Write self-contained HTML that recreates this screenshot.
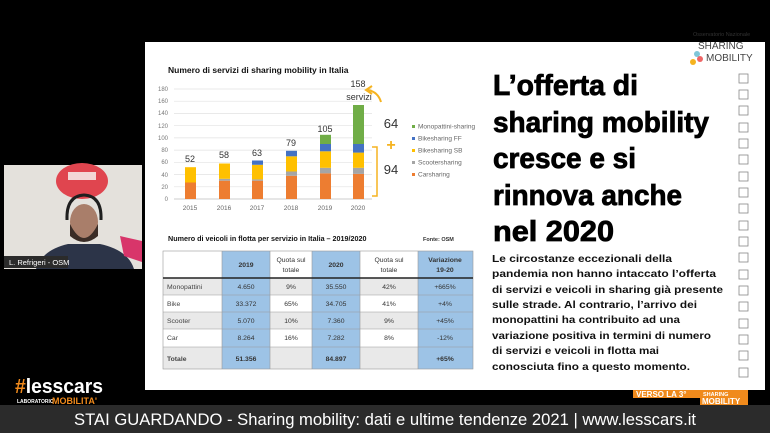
<!DOCTYPE html>
<html><head><meta charset="utf-8"><style>
html,body{margin:0;padding:0;background:#000;width:770px;height:433px;overflow:hidden}
svg{display:block}
text{font-family:"Liberation Sans",Arial,sans-serif}
</style></head><body>
<svg width="770" height="433" viewBox="0 0 770 433" xmlns="http://www.w3.org/2000/svg">
<rect width="770" height="433" fill="#000"/>
<!-- webcam -->
<rect x="4" y="165" width="138" height="104" fill="#e4e1dc"/>
<ellipse cx="82" cy="181" rx="26" ry="18" fill="#e0454f"/>
<rect x="68" y="172" width="28" height="8" fill="#f3d6d6"/>
<path d="M36 269 Q42 250 68 244 L100 244 Q128 250 134 269Z" fill="#2c3448"/>
<ellipse cx="84" cy="222" rx="14" ry="18" fill="#a97e6a"/>
<path d="M70 224 Q84 252 98 224 L98 236 Q84 248 70 236Z" fill="#3a2c26"/>
<path d="M67 220 Q66 196 84 195 Q102 196 101 220" fill="none" stroke="#1f1f1f" stroke-width="3"/>
<polygon points="120,236 142,241 142,262 124,256" fill="#d8356a"/>
<rect x="4" y="256" width="64" height="12" fill="#2b2b2b"/>
<text x="9" y="265" font-size="7.5" fill="#fff">L. Refrigeri - OSM</text>
<!-- slide -->
<rect x="145" y="42" width="620" height="348" fill="#fff"/>
<text x="168" y="73" font-size="8.5" font-weight="bold" fill="#111">Numero di servizi di sharing mobility in Italia</text>
<g stroke="#e2e2e2" stroke-width="0.7">
<line x1="174" x2="372" y1="89" y2="89"/><line x1="174" x2="372" y1="101.2" y2="101.2"/><line x1="174" x2="372" y1="113.4" y2="113.4"/><line x1="174" x2="372" y1="125.7" y2="125.7"/><line x1="174" x2="372" y1="137.9" y2="137.9"/><line x1="174" x2="372" y1="150.1" y2="150.1"/><line x1="174" x2="372" y1="162.3" y2="162.3"/><line x1="174" x2="372" y1="174.6" y2="174.6"/><line x1="174" x2="372" y1="186.8" y2="186.8"/><line x1="174" x2="372" y1="199" y2="199" stroke="#bbb"/>
</g>
<g font-size="6" fill="#777" text-anchor="end">
<text x="168" y="91">180</text><text x="168" y="103">160</text><text x="168" y="115">140</text><text x="168" y="128">120</text><text x="168" y="140">100</text><text x="168" y="152">80</text><text x="168" y="164">60</text><text x="168" y="177">40</text><text x="168" y="189">20</text><text x="168" y="201">0</text>
</g>
<g font-size="6.5" fill="#666" text-anchor="middle">
<text x="190" y="210">2015</text><text x="224" y="210">2016</text><text x="257" y="210">2017</text><text x="291" y="210">2018</text><text x="325" y="210">2019</text><text x="358" y="210">2020</text>
</g>
<g>
<rect x="185" y="182.5" width="11" height="16.5" fill="#ed7d31"/><rect x="185" y="167.2" width="11" height="15.3" fill="#ffc000"/>
<rect x="219" y="180.7" width="11" height="18.3" fill="#ed7d31"/><rect x="219" y="178.8" width="11" height="1.9" fill="#a5a5a5"/><rect x="219" y="163.5" width="11" height="15.3" fill="#ffc000"/>
<rect x="252" y="180.7" width="11" height="18.3" fill="#ed7d31"/><rect x="252" y="179.4" width="11" height="1.3" fill="#a5a5a5"/><rect x="252" y="164.8" width="11" height="14.6" fill="#ffc000"/><rect x="252" y="160.5" width="11" height="4.3" fill="#4472c4"/>
<rect x="286" y="175.8" width="11" height="23.2" fill="#ed7d31"/><rect x="286" y="171.5" width="11" height="4.3" fill="#a5a5a5"/><rect x="286" y="156.3" width="11" height="15.2" fill="#ffc000"/><rect x="286" y="150.8" width="11" height="5.5" fill="#4472c4"/>
<rect x="320" y="173.3" width="11" height="25.7" fill="#ed7d31"/><rect x="320" y="167.8" width="11" height="5.5" fill="#a5a5a5"/><rect x="320" y="151.3" width="11" height="16.5" fill="#ffc000"/><rect x="320" y="144" width="11" height="7.3" fill="#4472c4"/><rect x="320" y="134.8" width="11" height="9.2" fill="#70ad47"/>
<rect x="353" y="173.9" width="11" height="25.1" fill="#ed7d31"/><rect x="353" y="167.8" width="11" height="6.1" fill="#a5a5a5"/><rect x="353" y="152.6" width="11" height="15.2" fill="#ffc000"/><rect x="353" y="144" width="11" height="8.6" fill="#4472c4"/><rect x="353" y="105" width="11" height="39" fill="#70ad47"/>
</g>
<g font-size="9" fill="#333" text-anchor="middle">
<text x="190" y="162">52</text><text x="224" y="158">58</text><text x="257" y="156">63</text><text x="291" y="146">79</text><text x="325" y="132">105</text>
<text x="358" y="87">158</text><text x="359" y="100">servizi</text>
</g>
<path d="M381 102 Q378 92 368 90" fill="none" stroke="#f5b320" stroke-width="2"/>
<path d="M372 86 L366 90 L372 94" fill="none" stroke="#f5b320" stroke-width="2"/>
<text x="391" y="128" font-size="13" fill="#333" text-anchor="middle">64</text>
<text x="391" y="150" font-size="16" fill="#f5b320" text-anchor="middle" font-weight="bold">+</text>
<text x="391" y="174" font-size="13" fill="#333" text-anchor="middle">94</text>
<path d="M372 147 L377 147 L377 196 L372 196" fill="none" stroke="#f5b320" stroke-width="1.5"/>
<g font-size="6.5" fill="#666">
<rect x="412" y="125" width="3" height="3" fill="#70ad47"/><text x="418" y="128.5">Monopattini-sharing</text>
<rect x="412" y="137" width="3" height="3" fill="#4472c4"/><text x="418" y="140.5">Bikesharing FF</text>
<rect x="412" y="149" width="3" height="3" fill="#ffc000"/><text x="418" y="152.5">Bikesharing SB</text>
<rect x="412" y="161" width="3" height="3" fill="#a5a5a5"/><text x="418" y="164.5">Scootersharing</text>
<rect x="412" y="173" width="3" height="3" fill="#ed7d31"/><text x="418" y="176.5">Carsharing</text>
</g>
<text x="168" y="241" font-size="7.2" font-weight="bold" fill="#111">Numero di veicoli in flotta per servizio in Italia – 2019/2020</text>
<text x="423" y="241" font-size="5.5" font-weight="bold" fill="#333">Fonte: OSM</text>
<g>
<rect x="163" y="251" width="310" height="118" fill="#fff"/>
<rect x="163" y="278" width="310" height="17" fill="#e9e9e9"/>
<rect x="163" y="312" width="310" height="17" fill="#e9e9e9"/>
<rect x="163" y="347" width="310" height="22" fill="#e9e9e9"/>
<rect x="222" y="251" width="48" height="118" fill="#9dc3e6"/>
<rect x="312" y="251" width="48" height="118" fill="#9dc3e6"/>
<rect x="418" y="251" width="55" height="118" fill="#9dc3e6"/>
<g stroke="#999" stroke-width="0.6" fill="none">
<rect x="163" y="251" width="310" height="118"/>
<line x1="222" x2="222" y1="251" y2="369"/><line x1="270" x2="270" y1="251" y2="369"/><line x1="312" x2="312" y1="251" y2="369"/><line x1="360" x2="360" y1="251" y2="369"/><line x1="418" x2="418" y1="251" y2="369"/>
<line x1="163" x2="473" y1="295" y2="295"/><line x1="163" x2="473" y1="312" y2="312"/><line x1="163" x2="473" y1="329" y2="329"/><line x1="163" x2="473" y1="347" y2="347"/>
</g>
<line x1="163" x2="473" y1="278" y2="278" stroke="#222" stroke-width="1.5"/>
<g font-size="6.8" fill="#333" text-anchor="middle">
<text x="246" y="267" font-weight="bold">2019</text><text x="291" y="262">Quota sul</text><text x="291" y="272">totale</text>
<text x="336" y="267" font-weight="bold">2020</text><text x="389" y="262">Quota sul</text><text x="389" y="272">totale</text>
<text x="445" y="262" font-weight="bold">Variazione</text><text x="445" y="272" font-weight="bold">19-20</text>
<text x="246" y="289">4.650</text><text x="291" y="289">9%</text><text x="336" y="289">35.550</text><text x="389" y="289">42%</text><text x="445" y="289">+665%</text>
<text x="246" y="306">33.372</text><text x="291" y="306">65%</text><text x="336" y="306">34.705</text><text x="389" y="306">41%</text><text x="445" y="306">+4%</text>
<text x="246" y="323">5.070</text><text x="291" y="323">10%</text><text x="336" y="323">7.360</text><text x="389" y="323">9%</text><text x="445" y="323">+45%</text>
<text x="246" y="340">8.264</text><text x="291" y="340">16%</text><text x="336" y="340">7.282</text><text x="389" y="340">8%</text><text x="445" y="340">-12%</text>
<text x="246" y="361" font-weight="bold">51.356</text><text x="336" y="361" font-weight="bold">84.897</text><text x="445" y="361" font-weight="bold">+65%</text>
</g>
<g font-size="6.8" fill="#444">
<text x="167" y="289">Monopattini</text><text x="167" y="306">Bike</text><text x="167" y="323">Scooter</text><text x="167" y="340">Car</text><text x="167" y="361" font-weight="bold">Totale</text>
</g>
</g>
<g font-size="29" font-weight="bold" fill="#000" stroke="#000" stroke-width="0.8">
<text x="493" y="95" textLength="145" lengthAdjust="spacingAndGlyphs">L’offerta di</text>
<text x="493" y="132" textLength="216" lengthAdjust="spacingAndGlyphs">sharing mobility</text>
<text x="493" y="168" textLength="143" lengthAdjust="spacingAndGlyphs">cresce e si</text>
<text x="493" y="205" textLength="189" lengthAdjust="spacingAndGlyphs">rinnova anche</text>
<text x="493" y="241" textLength="121" lengthAdjust="spacingAndGlyphs">nel 2020</text>
</g>
<g font-size="10.5" font-weight="bold" fill="#111">
<text x="492" y="262" textLength="180" lengthAdjust="spacingAndGlyphs">Le circostanze eccezionali della</text>
<text x="492" y="277" textLength="224" lengthAdjust="spacingAndGlyphs">pandemia non hanno intaccato l’offerta</text>
<text x="492" y="293" textLength="231" lengthAdjust="spacingAndGlyphs">di servizi e veicoli in sharing già presente</text>
<text x="492" y="308" textLength="205" lengthAdjust="spacingAndGlyphs">sulle strade. Al contrario, l’arrivo dei</text>
<text x="492" y="323" textLength="188" lengthAdjust="spacingAndGlyphs">monopattini ha contribuito ad una</text>
<text x="492" y="339" textLength="219" lengthAdjust="spacingAndGlyphs">variazione positiva in termini di numero</text>
<text x="492" y="354" textLength="167" lengthAdjust="spacingAndGlyphs">di servizi e veicoli in flotta mai</text>
<text x="492" y="370" textLength="198" lengthAdjust="spacingAndGlyphs">conosciuta fino a questo momento.</text>
</g>
<g fill="none" stroke="#888" stroke-width="0.8">
<rect x="739" y="74" width="9" height="9"/><rect x="739" y="90" width="9" height="9"/><rect x="739" y="106" width="9" height="9"/><rect x="739" y="123" width="9" height="9"/><rect x="739" y="139" width="9" height="9"/><rect x="739" y="155" width="9" height="9"/><rect x="739" y="172" width="9" height="9"/><rect x="739" y="188" width="9" height="9"/><rect x="739" y="204" width="9" height="9"/><rect x="739" y="221" width="9" height="9"/><rect x="739" y="237" width="9" height="9"/><rect x="739" y="253" width="9" height="9"/><rect x="739" y="270" width="9" height="9"/><rect x="739" y="286" width="9" height="9"/><rect x="739" y="302" width="9" height="9"/><rect x="739" y="319" width="9" height="9"/><rect x="739" y="335" width="9" height="9"/><rect x="739" y="351" width="9" height="9"/><rect x="739" y="368" width="9" height="9"/>
</g>
<text x="693" y="36" font-size="5.5" fill="#333">Osservatorio Nazionale</text>
<text x="698" y="49" font-size="10" fill="#444">SHARING</text>
<text x="706" y="61" font-size="10" fill="#444">MOBILITY</text>
<circle cx="697" cy="54" r="3" fill="#7fc6d8"/><circle cx="700" cy="59" r="3" fill="#e66"/><circle cx="693" cy="62" r="3" fill="#f5b320"/>
<text x="15" y="393" font-size="20" font-weight="bold" fill="#fff" textLength="88" lengthAdjust="spacingAndGlyphs"><tspan fill="#f08a1c">#</tspan>lesscars</text>
<text x="17" y="403" font-size="5" font-weight="bold" fill="#fff">LABORATORIO</text>
<text x="52" y="404" font-size="9" font-weight="bold" fill="#f08a1c">MOBILITA'</text>
<rect x="633" y="390" width="78" height="8" fill="#f08a1c"/>
<rect x="700" y="390" width="48" height="15" fill="#f08a1c"/>
<text x="636" y="397" font-size="8" font-weight="bold" fill="#fff">VERSO LA 3°</text>
<text x="703" y="396" font-size="5.5" font-weight="bold" fill="#fff">SHARING</text>
<text x="702" y="404" font-size="8" font-weight="bold" fill="#fff">MOBILITY</text>
<rect x="0" y="405" width="770" height="28" fill="#2b2b2b"/>
<text x="385" y="425" font-size="17" fill="#fff" text-anchor="middle" textLength="622" lengthAdjust="spacingAndGlyphs">STAI GUARDANDO - Sharing mobility: dati e ultime tendenze 2021 | www.lesscars.it</text>
</svg>
</body></html>
